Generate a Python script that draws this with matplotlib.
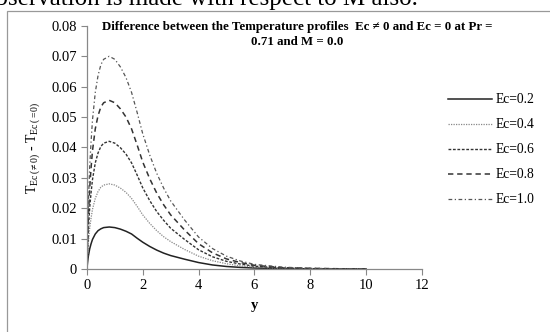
import matplotlib
matplotlib.use("Agg")
import matplotlib.pyplot as plt
from matplotlib.patches import Rectangle

plt.rcParams["font.family"] = ["Liberation Serif", "DejaVu Serif"]
plt.rcParams["mathtext.fontset"] = "custom"
plt.rcParams["mathtext.rm"] = "Liberation Serif"
plt.rcParams["mathtext.it"] = "Liberation Serif:italic"

# distance y
y = [0, 0.025, 0.05, 0.1, 0.15, 0.2, 0.3, 0.4, 0.5, 0.6, 0.8, 1.0, 1.2, 1.4, 1.6,
     1.8, 2.0, 2.25, 2.5, 2.75, 3.0, 3.5, 4.0, 4.5, 5.0, 5.5, 6.0, 7.0, 8.0, 9.0, 10.0]

# T(Ec != 0) - T(Ec = 0)
ec_02 = [0, 0.0022, 0.0041, 0.0066, 0.0083, 0.0097, 0.0115, 0.0126, 0.0132, 0.0136,
         0.0138, 0.0136, 0.0131, 0.0124, 0.0115, 0.0101, 0.0088, 0.0074, 0.0062,
         0.0052, 0.0044, 0.0032, 0.0021, 0.0013, 0.0008, 0.0005, 0.0003, 0.0001,
         0.00004, 0.00001, 0]
ec_04 = [0, 0.0045, 0.0084, 0.0134, 0.0168, 0.0196, 0.0232, 0.0255, 0.0269, 0.0276,
         0.0280, 0.0276, 0.0266, 0.0252, 0.0232, 0.0206, 0.0178, 0.0150, 0.0126,
         0.0106, 0.0090, 0.0064, 0.0042, 0.0027, 0.0017, 0.0010, 0.0006, 0.0002,
         0.0001, 0.00003, 0]
ec_06 = [0, 0.0067, 0.0126, 0.0202, 0.0252, 0.0294, 0.0349, 0.0382, 0.0403, 0.0414,
         0.0420, 0.0414, 0.0399, 0.0378, 0.0349, 0.0309, 0.0267, 0.0225, 0.0189,
         0.0160, 0.0134, 0.0097, 0.0063, 0.0040, 0.0025, 0.0016, 0.0009, 0.0003,
         0.0001, 0.00004, 0]
ec_08 = [0, 0.0089, 0.0167, 0.0266, 0.0333, 0.0389, 0.0461, 0.0505, 0.0533, 0.0547,
         0.0555, 0.0547, 0.0527, 0.0500, 0.0461, 0.0408, 0.0352, 0.0297, 0.0250,
         0.0211, 0.0178, 0.0128, 0.0083, 0.0053, 0.0033, 0.0021, 0.0012, 0.0004,
         0.0002, 0.00006, 0]
ec_10 = [0, 0.0112, 0.0210, 0.0336, 0.0420, 0.0490, 0.0581, 0.0637, 0.0672, 0.0690,
         0.0700, 0.0690, 0.0665, 0.0630, 0.0581, 0.0515, 0.0445, 0.0375, 0.0315,
         0.0266, 0.0224, 0.0161, 0.0105, 0.0067, 0.0042, 0.0026, 0.0015, 0.0006,
         0.0002, 0.00007, 0]

labels = ["Ec=0.2", "Ec=0.4", "Ec=0.6", "Ec=0.8", "Ec=1.0"]
xticks = [0, 2, 4, 6, 8, 10, 12]
yticks = [0, 0.01, 0.02, 0.03, 0.04, 0.05, 0.06, 0.07, 0.08]

fig = plt.figure(figsize=(5.5, 3.32), dpi=100)
ax = fig.add_axes([0.158, 0.19, 0.609, 0.732])

ax.plot(y, ec_02, color="#222222", lw=1.1, ls="-", label=labels[0])
ax.plot(y, ec_04, color="#888888", lw=0.9, ls=(0, (1, 1)), label=labels[1])
ax.plot(y, ec_06, color="#333333", lw=1.0, ls=(0, (2, 1.2)), label=labels[2])
ax.plot(y, ec_08, color="#333333", lw=1.1, ls=(0, (3.5, 2.5)), label=labels[3])
ax.plot(y, ec_10, color="#555555", lw=0.9, ls=(0, (3, 2, 1, 2)), label=labels[4])

ax.set_xlim(0, 12)
ax.set_ylim(0, 0.08)
ax.set_xticks(xticks)
ax.set_xticklabels([str(t) for t in xticks])
ax.set_yticks(yticks)
ax.set_yticklabels(["0"] + [f"{t:.2f}" for t in yticks[1:]])

for side in ["top", "right"]:
    ax.spines[side].set_visible(False)
for side in ["left", "bottom"]:
    ax.spines[side].set_color("#888888")
    ax.spines[side].set_linewidth(0.9)
ax.tick_params(direction="out", length=4, width=0.8, color="#888888",
               labelsize=10.5, pad=3)

ax.set_xlabel("y", fontsize=10.5, fontweight="bold", labelpad=5)
ax.set_ylabel(r"$\mathrm{T}_{\mathrm{Ec}\,(\neq 0)}$ - $\mathrm{T}_{\mathrm{Ec}\,(=0)}$",
              fontsize=10, labelpad=7)

fig.text(0.54, 0.936, "Difference between the Temperature profiles  Ec \u2260 0 and Ec = 0 at Pr =\n0.71 and M = 0.0",
         ha="center", va="top", fontsize=9.3, fontweight="bold", linespacing=1.3)

ax.legend(loc="upper left", bbox_to_anchor=(0.805, 0.735), bbox_transform=fig.transFigure,
          frameon=False, fontsize=9.8, handlelength=3.2, handletextpad=0.3,
          labelspacing=0.88, borderaxespad=0)

# text line of the page above the chart, cut off
fig.text(-0.031, 0.985, "observation is made with respect to M also.", ha="left",
         va="baseline", fontsize=18)

fig.patches.append(Rectangle((7 / 550, -0.2), 1.2, 1.2 - 11 / 332,
                             transform=fig.transFigure, fill=False,
                             edgecolor="#999999", lw=0.9))

fig.savefig("out.png", dpi=100)
